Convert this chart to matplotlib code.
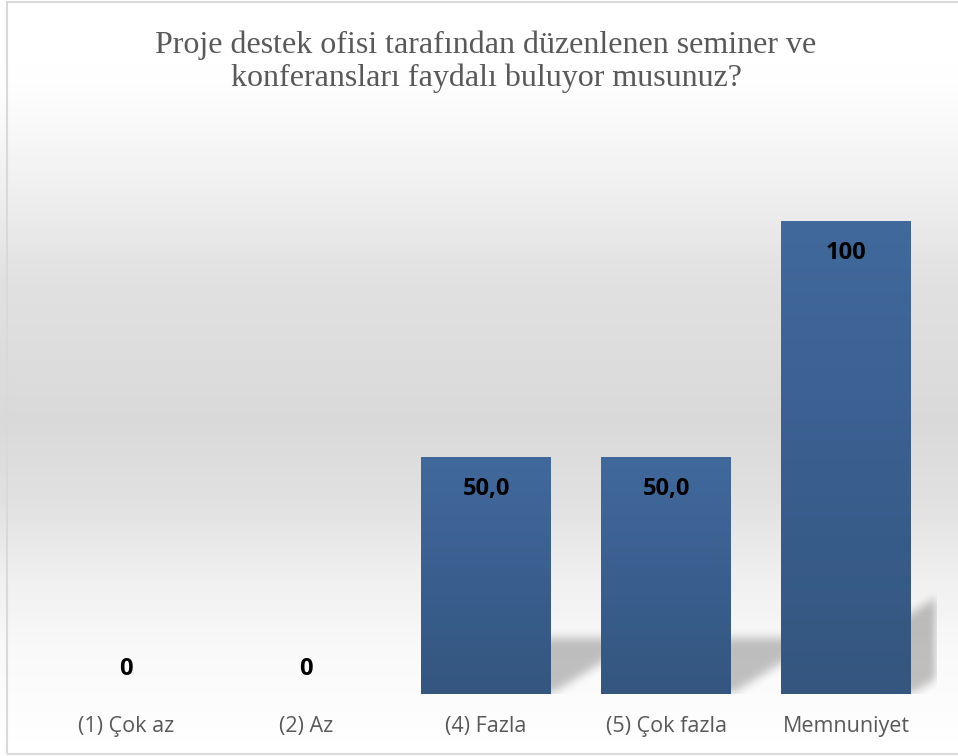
import matplotlib.pyplot as plt
import numpy as np
from matplotlib.colors import LinearSegmentedColormap
from matplotlib.patches import Rectangle

# veriler
kategoriler = ['(1) Çok az', '(2) Az', '(4) Fazla', '(5) Çok fazla', 'Memnuniyet']
degerler = [0, 0, 50, 50, 100]
etiketler = ['0', '0', '50,0', '50,0', '100']
baslik = 'Proje destek ofisi tarafından düzenlenen seminer ve\nkonferansları faydalı buluyor musunuz?'

W, H = 958, 756
fig = plt.figure(figsize=(W / 100, H / 100), dpi=100)

# arka plan gradyanı
bg = fig.add_axes([0, 0, 1, 1], zorder=0)
bg.axis('off')
stop_y = [0, 80, 130, 200, 280, 420, 500, 580, 650, 720, 756]
stop_v = [1.0, 0.995, 0.97, 0.93, 0.88, 0.85, 0.88, 0.94, 0.975, 0.99, 1.0]
grad = np.interp(np.arange(H), stop_y, stop_v)[:, None]
bg.imshow(grad, cmap='gray', vmin=0, vmax=1, aspect='auto', extent=[0, 1, 0, 1], origin='upper')
bg.set_xlim(0, 1)
bg.set_ylim(0, 1)
bg.add_patch(Rectangle((6.5 / W, 2.5 / H), 1.2, 1 - 4 / H, transform=fig.transFigure,
                       fill=False, edgecolor='#d9d9d9', linewidth=1.5))

# grafik alanı
ax_l, ax_r, ax_b, px_per_unit = 36, 936, 694, 4.73
ymax = 120
ax_h = ymax * px_per_unit
ax = fig.add_axes([ax_l / W, (H - ax_b) / H, (ax_r - ax_l) / W, ax_h / H], zorder=1)
ax.patch.set_alpha(0)
ax.set_xlim(-0.5, len(kategoriler) - 0.5)
ax.set_ylim(0, ymax)

genislik = 0.72
cubuklar = ax.bar(range(len(degerler)), degerler, width=genislik, color='#3a5f8f', zorder=3)

# gölgeler (perspektif, bulanık)
gw, gh = ax_r - ax_l, int(round(ax_h))
px_cat = gw / len(kategoriler)
xx, yy = np.meshgrid(np.arange(gw) + 0.5, np.arange(gh) + 0.5)
maske = np.zeros((gh, gw))
for i, v in enumerate(degerler):
    if v <= 0:
        continue
    h = 0.235 * v * px_per_unit
    dx = 1.6 * h
    xl = (i - genislik / 2 + 0.5) * px_cat
    xr = (i + genislik / 2 + 0.5) * px_cat
    kay = yy * dx / h
    icinde = (yy <= h) & (xx >= xl + kay) & (xx <= xr + kay)
    maske = np.maximum(maske, icinde.astype(float))


def kutu_bulanik(a, r):
    k = np.ones(2 * r + 1) / (2 * r + 1)
    a = np.apply_along_axis(lambda s: np.convolve(s, k, mode='same'), 0, a)
    a = np.apply_along_axis(lambda s: np.convolve(s, k, mode='same'), 1, a)
    return a


maske = kutu_bulanik(kutu_bulanik(maske, 5), 5)
golge = np.zeros((gh, gw, 4))
golge[..., 3] = maske * 0.24
ax.imshow(golge, extent=[-0.5, len(kategoriler) - 0.5, 0, ymax], origin='lower',
          aspect='auto', zorder=2, interpolation='bilinear')

# çubuk gradyanı
cmap = LinearSegmentedColormap.from_list('mavi', ['#34567f', '#3a5f8f', '#42699c'])
for c in cubuklar:
    if c.get_height() <= 0:
        continue
    x0, w, hh = c.get_x(), c.get_width(), c.get_height()
    ax.imshow(np.linspace(0, 1, 256)[:, None], cmap=cmap, origin='lower', aspect='auto',
              extent=[x0, x0 + w, 0, hh], zorder=4)
ax.set_xlim(-0.5, len(kategoriler) - 0.5)
ax.set_ylim(0, ymax)

# değer etiketleri
for i, (v, e) in enumerate(zip(degerler, etiketler)):
    dy = 18 if v == 0 else -23
    ax.annotate(e, (i, v), xytext=(0, dy), textcoords='offset points', ha='center', va='center',
                fontsize=17, fontweight='bold', family='Open Sans', color='black', zorder=5)

ax.set_xticks(range(len(kategoriler)), kategoriler)
ax.set_yticks([])
ax.tick_params(axis='x', length=0, pad=16, labelsize=15.5, labelcolor='#595959')
for t in ax.get_xticklabels():
    t.set_fontfamily('Open Sans')
for s in ax.spines.values():
    s.set_visible(False)

fig.text(486 / W, 1 - 62 / H, baslik, ha='center', va='center', fontsize=23,
         family='Liberation Serif', color='#595959', linespacing=1.17)

fig.savefig('out.png', dpi=100)
